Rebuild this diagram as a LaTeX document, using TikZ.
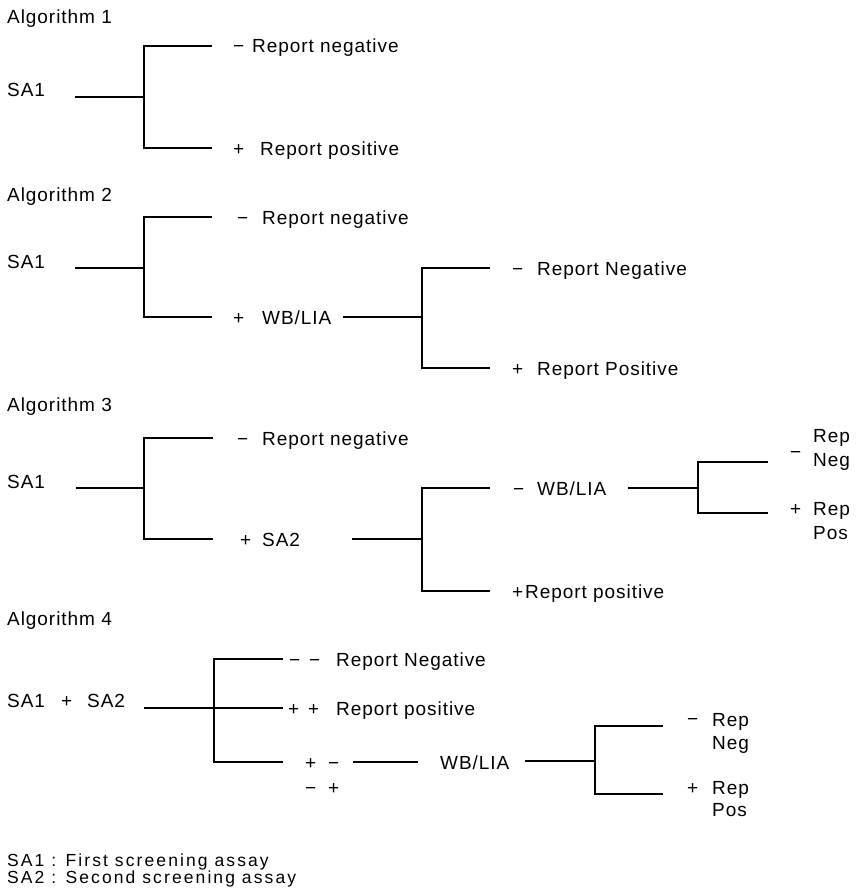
\documentclass[tikz,border=0pt]{standalone}
\usepackage{fontspec}
\setmainfont{Liberation Sans}[LetterSpace=5]
\newcommand{\fsmain}{\fontsize{19}{23}\selectfont}
\newcommand{\fsleg}{\fontsize{17.5}{16}\selectfont\addfontfeatures{LetterSpace=12}}
\tikzset{
  lbl/.style={anchor=base west, inner sep=0pt, font=\fsmain},
  leg/.style={anchor=base west, inner sep=0pt, font=\fsleg},
  br/.style={line width=1.2pt, line cap=butt}
}
\begin{document}
\begin{tikzpicture}[x=1pt,y=-1pt]
\useasboundingbox (0,0) rectangle (863,888);
% ---------------- Algorithm 1
\node[lbl] (h1) at (7,24) {Algorithm 1};
\node[lbl] (s1) at (7,97) {SA1};
\coordinate (a1i) at (75,97);
\coordinate (a1j) at (144,97);
\coordinate (a1t) at (144,46);
\coordinate (a1te) at (212,46);
\coordinate (a1b) at (144,148);
\coordinate (a1be) at (212,148);
\draw[br] (a1i) -- (a1j);
\draw[br] (a1te) -- (a1t) -- (a1b) -- (a1be);
\node[lbl] (a1m) at (233,53) {−};
\node[lbl] (a1n) at (252,53) {Report negative};
\node[lbl] (a1p) at (233,155) {+};
\node[lbl] (a1q) at (260,155) {Report positive};
% ---------------- Algorithm 2
\node[lbl] (h2) at (7,201) {Algorithm 2};
\node[lbl] (s2) at (7,268) {SA1};
\coordinate (a2i) at (75,268);
\coordinate (a2j) at (144,268);
\coordinate (a2t) at (144,217);
\coordinate (a2te) at (212,217);
\coordinate (a2b) at (144,317);
\coordinate (a2be) at (212,317);
\draw[br] (a2i) -- (a2j);
\draw[br] (a2te) -- (a2t) -- (a2b) -- (a2be);
\node[lbl] (a2m) at (237,224) {−};
\node[lbl] (a2n) at (262,224) {Report negative};
\node[lbl] (a2p) at (233,324) {+};
\node[lbl] (a2w) at (262,324) {WB/LIA};
\coordinate (a2ki) at (343,317);
\coordinate (a2kj) at (422,317);
\coordinate (a2kt) at (422,268);
\coordinate (a2kte) at (490,268);
\coordinate (a2kb) at (422,368);
\coordinate (a2kbe) at (490,368);
\draw[br] (a2ki) -- (a2kj);
\draw[br] (a2kte) -- (a2kt) -- (a2kb) -- (a2kbe);
\node[lbl] (a2m2) at (512,275) {−};
\node[lbl] (a2n2) at (537,275) {Report Negative};
\node[lbl] (a2p2) at (512,375) {+};
\node[lbl] (a2q2) at (537,375) {Report Positive};
% ---------------- Algorithm 3
\node[lbl] (h3) at (7,411) {Algorithm 3};
\node[lbl] (s3) at (7,488) {SA1};
\coordinate (a3i) at (76,488);
\coordinate (a3j) at (144,488);
\coordinate (a3t) at (144,438);
\coordinate (a3te) at (213,438);
\coordinate (a3b) at (144,539);
\coordinate (a3be) at (213,539);
\draw[br] (a3i) -- (a3j);
\draw[br] (a3te) -- (a3t) -- (a3b) -- (a3be);
\node[lbl] (a3m) at (237,445) {−};
\node[lbl] (a3n) at (262,445) {Report negative};
\node[lbl] (a3p) at (240,546) {+};
\node[lbl] (a3s) at (262,546) {SA2};
\coordinate (a3ki) at (352,539);
\coordinate (a3kj) at (422,539);
\coordinate (a3kt) at (422,488);
\coordinate (a3kte) at (490,488);
\coordinate (a3kb) at (422,591);
\coordinate (a3kbe) at (490,591);
\draw[br] (a3ki) -- (a3kj);
\draw[br] (a3kte) -- (a3kt) -- (a3kb) -- (a3kbe);
\node[lbl] (a3m2) at (513,495) {−};
\node[lbl] (a3w) at (537,495) {WB/LIA};
\node[lbl] (a3p2) at (512,598) {+};
\node[lbl] (a3q) at (525,598) {Report positive};
\coordinate (a3li) at (628,488);
\coordinate (a3lj) at (698,488);
\coordinate (a3lt) at (698,462);
\coordinate (a3lte) at (768,462);
\coordinate (a3lb) at (698,513);
\coordinate (a3lbe) at (768,513);
\draw[br] (a3li) -- (a3lj);
\draw[br] (a3lte) -- (a3lt) -- (a3lb) -- (a3lbe);
\node[lbl] (a3r1) at (813,442) {Rep};
\node[lbl] (a3m3) at (790,458) {−};
\node[lbl] (a3g1) at (813,466) {Neg};
\node[lbl] (a3p3) at (790,515) {+};
\node[lbl] (a3r2) at (813,515) {Rep};
\node[lbl] (a3o2) at (813,539) {Pos};
% ---------------- Algorithm 4
\node[lbl] (h4) at (7,625) {Algorithm 4};
\node[lbl] (s4a) at (7,707) {SA1};
\node[lbl] (s4p) at (61,707) {+};
\node[lbl] (s4b) at (87,707) {SA2};
\coordinate (a4i) at (144,708);
\coordinate (a4e) at (283,708);
\coordinate (a4t) at (214,659);
\coordinate (a4te) at (283,659);
\coordinate (a4b) at (214,762);
\coordinate (a4be) at (283,762);
\draw[br] (a4i) -- (a4e);
\draw[br] (a4te) -- (a4t) -- (a4b) -- (a4be);
\node[lbl] (a4m1) at (289,666) {−};
\node[lbl] (a4m2) at (309,666) {−};
\node[lbl] (a4n) at (336,666) {Report Negative};
\node[lbl] (a4p1) at (288,715) {+};
\node[lbl] (a4p2) at (308,715) {+};
\node[lbl] (a4q) at (336,715) {Report positive};
\node[lbl] (a4c1) at (305,769) {+};
\node[lbl] (a4c2) at (328,769) {−};
\node[lbl] (a4d1) at (305,794) {−};
\node[lbl] (a4d2) at (328,794) {+};
\coordinate (a4ki) at (353,762);
\coordinate (a4ke) at (418,762);
\draw[br] (a4ki) -- (a4ke);
\node[lbl] (a4w) at (440,769) {WB/LIA};
\coordinate (a4li) at (525,761);
\coordinate (a4lj) at (595,761);
\coordinate (a4lt) at (595,726);
\coordinate (a4lte) at (663,726);
\coordinate (a4lb) at (595,794);
\coordinate (a4lbe) at (663,794);
\draw[br] (a4li) -- (a4lj);
\draw[br] (a4lte) -- (a4lt) -- (a4lb) -- (a4lbe);
\node[lbl] (a4m3) at (687,725) {−};
\node[lbl] (a4r1) at (712,726) {Rep};
\node[lbl] (a4g1) at (712,749) {Neg};
\node[lbl] (a4p3) at (687,794) {+};
\node[lbl] (a4r2) at (712,794) {Rep};
\node[lbl] (a4o2) at (712,816) {Pos};
% ---------------- Legend
\node[leg] (l1) at (7,866) {SA1 : First screening assay};
\node[leg] (l2) at (7,883) {SA2 : Second screening assay};
\end{tikzpicture}
\end{document}
